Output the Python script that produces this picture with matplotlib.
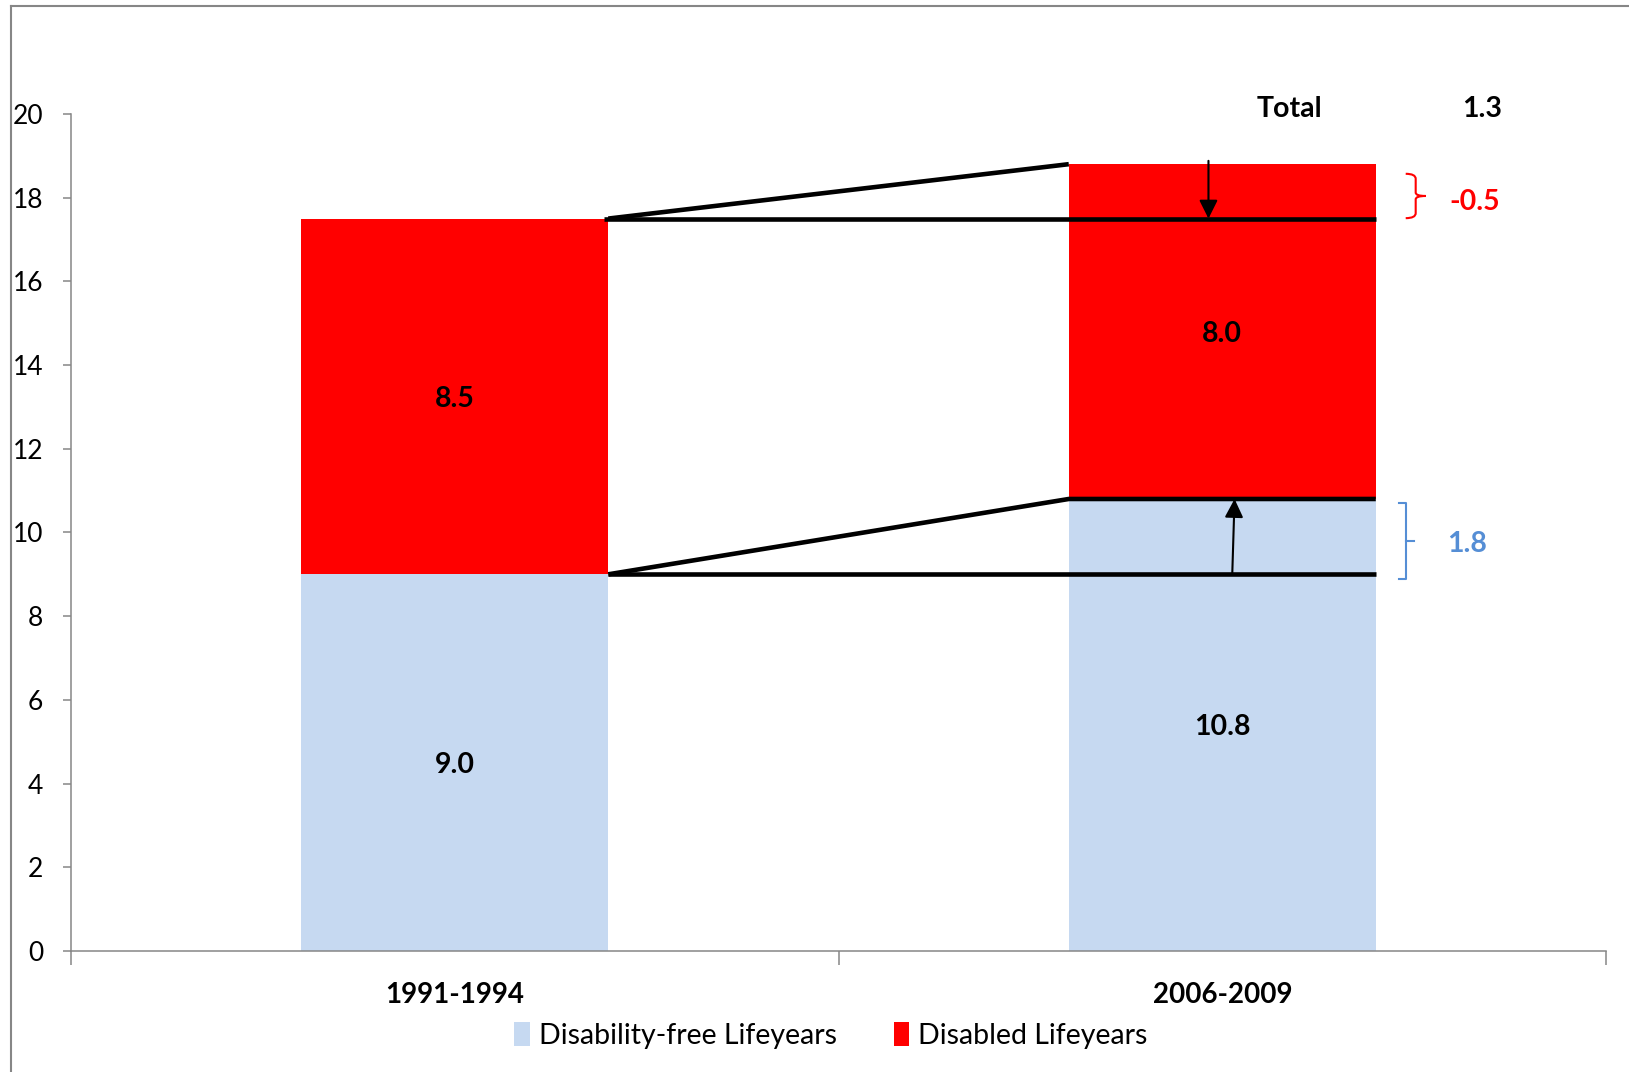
import matplotlib

matplotlib.use("Agg")
import matplotlib.pyplot as plt
from matplotlib.lines import Line2D
from matplotlib.patches import Patch
from matplotlib.path import Path
from matplotlib.patches import PathPatch

plt.rcParams["font.family"] = ["Lato", "DejaVu Sans"]

# values
periods = ["1991-1994", "2006-2009"]
disability_free = [9.0, 10.8]
disabled = [8.5, 8.0]
series_names = ["Disability-free Lifeyears", "Disabled Lifeyears"]
y_ticks = list(range(0, 21, 2))

LIGHT_BLUE = "#C6D9F1"
RED = "#FF0000"
BLUE_TEXT = "#558ED5"
GREY = "#868686"
BAR_W = 0.4
BOLD_SIZE = 20.5
TEXT_DROP = 0.06  # Lato sits a little high compared with the original font


def main() -> None:
    fig = plt.figure(figsize=(16.29, 10.72), dpi=100)
    ax = fig.add_axes([0.0436, 0.1129, 0.9423, 0.7808])

    x = list(range(len(periods)))
    ax.bar(x, disability_free, width=BAR_W, color=LIGHT_BLUE, zorder=2)
    ax.bar(x, disabled, width=BAR_W, bottom=disability_free, color=RED, zorder=2)

    totals = [a + b for a, b in zip(disability_free, disabled)]
    for i in x:
        ax.text(i, disability_free[i] / 2 - TEXT_DROP, f"{disability_free[i]:.1f}", ha="center",
                va="center", fontsize=BOLD_SIZE, fontweight="bold", zorder=4)
        ax.text(i, disability_free[i] + disabled[i] / 2 - TEXT_DROP, f"{disabled[i]:.1f}",
                ha="center", va="center", fontsize=BOLD_SIZE, fontweight="bold", zorder=4)

    # connector lines between the two bars
    r0 = x[0] + BAR_W / 2
    l1 = x[1] - BAR_W / 2
    r1 = x[1] + BAR_W / 2
    lk = dict(color="black", lw=3.3, zorder=3, solid_capstyle="butt")
    ax.plot([r0, l1], [totals[0], totals[1]], **lk)
    ax.plot([r0 - 0.005, r1], [totals[0], totals[0]], **lk)
    ax.plot([r0, l1, r1], [disability_free[0], disability_free[1], disability_free[1]], **lk)
    ax.plot([r0, r1], [disability_free[0], disability_free[0]], **lk)

    ak = dict(arrowstyle="-|>", lw=1.5, color="black", mutation_scale=28, shrinkA=0, shrinkB=0)
    ax.annotate("", xy=(0.982, totals[0]), xytext=(0.982, totals[1] + 0.08),
                arrowprops=ak, zorder=5)
    ax.annotate("", xy=(1.016, disability_free[1]), xytext=(1.013, disability_free[0]),
                arrowprops=ak, zorder=5)

    # red curly brace for the disabled change
    bx, bw = 1.239, 0.013
    yt, yb = 18.57, 17.51
    ym = (yt + yb) / 2
    verts = [(bx, yt), (bx + bw, yt), (bx + bw, yt - 0.12),
             (bx + bw, ym + 0.08), (bx + bw, ym), (bx + 2 * bw, ym),
             (bx + bw, ym), (bx + bw, ym - 0.08),
             (bx + bw, yb + 0.12), (bx + bw, yb), (bx, yb)]
    codes = [Path.MOVETO, Path.CURVE3, Path.CURVE3,
             Path.LINETO, Path.CURVE3, Path.CURVE3,
             Path.CURVE3, Path.CURVE3,
             Path.LINETO, Path.CURVE3, Path.CURVE3]
    ax.add_patch(PathPatch(Path(verts, codes), fill=False, edgecolor=RED, lw=1.5,
                           clip_on=False, zorder=3))
    change_dis = disabled[1] - disabled[0]
    ax.text(1.329, 17.9, f"{change_dis:.1f}", color=RED, fontsize=BOLD_SIZE,
            fontweight="bold", ha="center", va="center")

    # blue bracket for the disability-free change
    qx, qw = 1.230, 0.0091
    yt2, yb2 = 10.70, 8.89
    ym2 = (yt2 + yb2) / 2
    ax.plot([qx, qx + qw, qx + qw, qx], [yt2, yt2, yb2, yb2], color=BLUE_TEXT, lw=1.5,
            clip_on=False, zorder=3)
    ax.plot([qx + qw, qx + 2.2 * qw], [ym2, ym2], color=BLUE_TEXT, lw=1.5, clip_on=False)
    change_free = disability_free[1] - disability_free[0]
    ax.text(1.319, ym2 - 0.08, f"{change_free:.1f}", color=BLUE_TEXT, fontsize=BOLD_SIZE,
            fontweight="bold", ha="center", va="center")

    ax.text(1.088, 20.12, "Total", fontsize=BOLD_SIZE, fontweight="bold", ha="center",
            va="center")
    ax.text(1.338, 20.12, f"{totals[1] - totals[0]:.1f}", fontsize=BOLD_SIZE,
            fontweight="bold", ha="center", va="center")

    # axes styling
    ax.set_xlim(-0.5, 1.5)
    ax.set_ylim(0, 20)
    ax.set_yticks(y_ticks)
    ax.set_xticks([-0.5, 0.5, 1.5])
    ax.set_xticklabels([])
    ax.set_xticks(x, minor=True)
    ax.set_xticklabels(periods, minor=True, fontsize=20, fontweight="bold")
    ax.tick_params(axis="x", which="minor", length=0, pad=22)
    ax.tick_params(axis="x", which="major", length=10, width=1.1, color=GREY)
    ax.tick_params(axis="y", length=6, width=1.1, color=GREY, labelsize=19, pad=14)
    for side in ("top", "right"):
        ax.spines[side].set_visible(False)
    for side in ("left", "bottom"):
        ax.spines[side].set_color(GREY)
        ax.spines[side].set_linewidth(1.1)

    handles = [Patch(facecolor=LIGHT_BLUE), Patch(facecolor=RED)]
    fig.legend(handles, series_names, loc="center", bbox_to_anchor=(0.51, 0.034),
               ncol=2, frameon=False, fontsize=20.5, handlelength=0.55, handleheight=0.9,
               handletextpad=0.3, columnspacing=2.0)

    # outer chart border (left and top edges visible)
    fig.add_artist(Line2D([0.00675, 0.00675], [0.0, 0.9944], color=GREY, lw=1.5))
    fig.add_artist(Line2D([0.00675, 1.0], [0.9944, 0.9944], color=GREY, lw=1.5))

    fig.savefig("out.png", dpi=100)
    plt.close(fig)


if __name__ == "__main__":
    main()
